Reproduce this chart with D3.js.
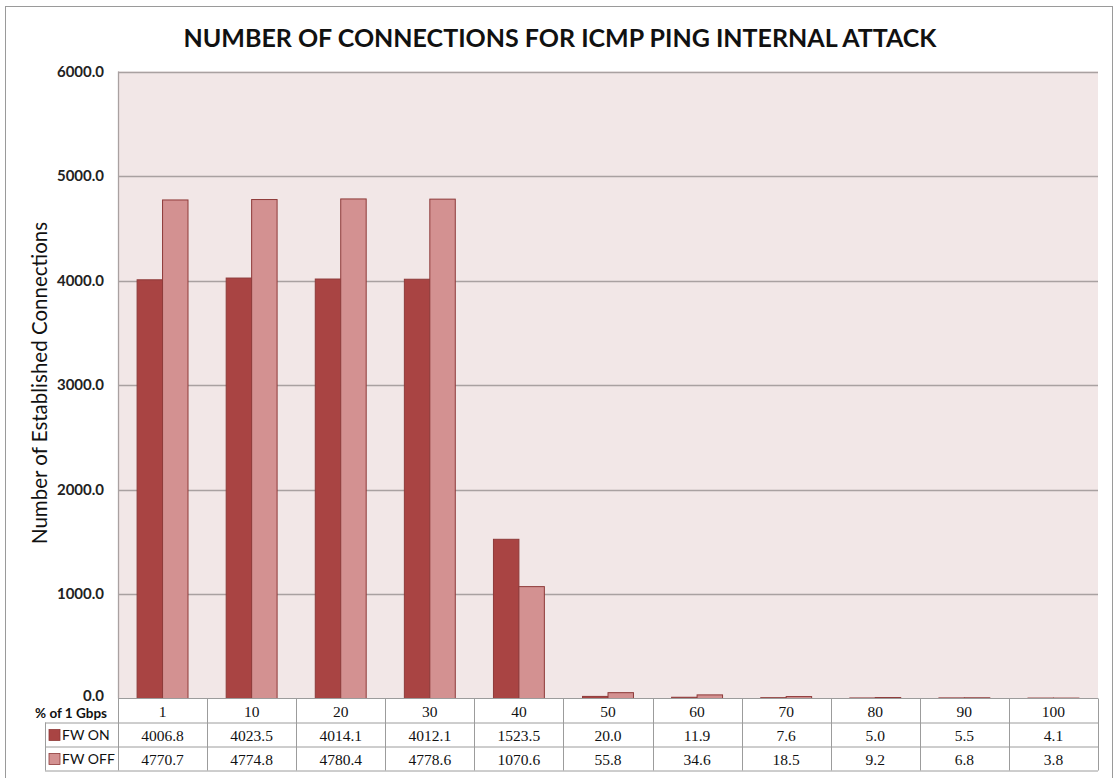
<!DOCTYPE html>
<html>
<head>
<meta charset="utf-8">
<script src="https://cdn.jsdelivr.net/npm/d3@7"></script>
<style>
  html, body { margin: 0; padding: 0; background: #ffffff; }
  svg { display: block; }
</style>
</head>
<body>
<svg id="chart" width="1114" height="778"></svg>
<script>
// Load levels (% of 1 Gbps) and connection counts per firewall state
const categories = ["1", "10", "20", "30", "40", "50", "60", "70", "80", "90", "100"];
const fwOn  = [4006.8, 4023.5, 4014.1, 4012.1, 1523.5, 20.0, 11.9, 7.6, 5.0, 5.5, 4.1];
const fwOff = [4770.7, 4774.8, 4780.4, 4778.6, 1070.6, 55.8, 34.6, 18.5, 9.2, 6.8, 3.8];
const seriesNames = ["FW ON", "FW OFF"];
const yTicks = [0, 1000, 2000, 3000, 4000, 5000, 6000];

const title = "NUMBER OF CONNECTIONS FOR ICMP PING INTERNAL ATTACK";
const yTitle = "Number of Established Connections";
const rowHeader = "% of 1 Gbps";

const colors = ["#A94443", "#D39191"];
const strokeCol = "#8E3A39";
const sansFont = "Lato, 'Open Sans', sans-serif";
const serifFont = "'Liberation Serif', 'DejaVu Serif', serif";

const svg = d3.select("#chart");
const plot = { left: 118, right: 1098, top: 71.5, bottom: 698.5 };

// outer frame
svg.append("rect")
  .attr("x", 5.5).attr("y", 6.5).attr("width", 1107).attr("height", 790)
  .attr("fill", "#fff").attr("stroke", "#9a9a9a").attr("stroke-width", 1);

// scales
const x = d3.scaleBand().domain(categories).range([plot.left, plot.right]).paddingInner(0).paddingOuter(0);
const y = d3.scaleLinear().domain([0, 6000]).range([plot.bottom, plot.top]);
// 150% gap between groups: band = 2 bars + 1.5 bar widths
const barW = x.bandwidth() / 3.5;
const sub = d3.scaleBand().domain([0, 1]).range([barW * 0.75, barW * 2.75]);

// plot background
svg.append("rect")
  .attr("x", plot.left).attr("y", plot.top)
  .attr("width", plot.right - plot.left).attr("height", plot.bottom - plot.top)
  .attr("fill", "#F2E7E7");

// tick labels from a left axis
const yAxis = d3.axisLeft(y).tickValues(yTicks).tickSize(0).tickPadding(14)
  .tickFormat(d => d3.format(".1f")(d));
const gy = svg.append("g").attr("transform", `translate(${plot.left},0)`).call(yAxis);
gy.select(".domain").remove();
gy.selectAll("text")
  .attr("font-family", sansFont).attr("font-weight", "bold")
  .attr("font-size", 15).attr("fill", "#222").attr("dy", "0.32em");
gy.selectAll(".tick").filter(d => d === 0).select("text").attr("dy", "0.1em");

// grid lines
svg.append("g").selectAll("line").data(yTicks.filter(d => d > 0)).join("line")
  .attr("x1", plot.left).attr("x2", plot.right)
  .attr("y1", d => Math.round(y(d)) + 0.5).attr("y2", d => Math.round(y(d)) + 0.5)
  .attr("stroke", "#A9A1A1").attr("stroke-width", 1.3);

// left axis line
svg.append("line")
  .attr("x1", plot.left + 0.5).attr("x2", plot.left + 0.5)
  .attr("y1", plot.top).attr("y2", plot.bottom)
  .attr("stroke", "#A9A1A1").attr("stroke-width", 1.3);

// bars
const series = [fwOn, fwOff];
const gBars = svg.append("g");
series.forEach((vals, si) => {
  gBars.append("g").selectAll("rect").data(vals).join("rect")
    .attr("x", (d, i) => x(categories[i]) + sub(si))
    .attr("y", d => y(d))
    .attr("width", sub.bandwidth())
    .attr("height", d => plot.bottom - y(d))
    .attr("fill", colors[si])
    .attr("stroke", strokeCol).attr("stroke-width", 1);
});

// data table under the plot
const rowH = 24;
const tableTop = plot.bottom;
const tableLeft = 45;
const gT = svg.append("g");
const tableStroke = "#9c9c9c";

// horizontal rules
gT.append("line").attr("x1", plot.left).attr("x2", plot.right)
  .attr("y1", tableTop).attr("y2", tableTop).attr("stroke", tableStroke);
[1, 2, 3].forEach(r => {
  gT.append("line")
    .attr("x1", tableLeft).attr("x2", plot.right)
    .attr("y1", tableTop + r * rowH + 0.5).attr("y2", tableTop + r * rowH + 0.5)
    .attr("stroke", tableStroke);
});
// vertical rules
const vx = categories.map(c => x(c)).concat([plot.right]);
gT.selectAll("line.v").data(vx).join("line").attr("class", "v")
  .attr("x1", d => Math.round(d) + 0.5).attr("x2", d => Math.round(d) + 0.5)
  .attr("y1", tableTop).attr("y2", tableTop + 3 * rowH)
  .attr("stroke", tableStroke);
gT.append("line")
  .attr("x1", tableLeft + 0.5).attr("x2", tableLeft + 0.5)
  .attr("y1", tableTop + rowH).attr("y2", tableTop + 3 * rowH)
  .attr("stroke", tableStroke);

// header row: category labels
gT.selectAll("text.cat").data(categories).join("text").attr("class", "cat")
  .attr("x", d => x(d) + x.bandwidth() / 2)
  .attr("y", tableTop + rowH / 2 + 1)
  .attr("dy", "0.35em").attr("text-anchor", "middle")
  .attr("font-family", serifFont).attr("font-size", 15.5).attr("fill", "#111")
  .text(d => d);

gT.append("text")
  .attr("x", 107).attr("y", tableTop + rowH / 2 + 3)
  .attr("dy", "0.35em").attr("text-anchor", "end")
  .attr("font-family", sansFont).attr("font-weight", "bold")
  .attr("font-size", 13.5).attr("fill", "#111")
  .text(rowHeader);

// data rows with legend keys
series.forEach((vals, si) => {
  const cy = tableTop + rowH * (si + 1) + rowH / 2 + 1;
  gT.append("rect")
    .attr("x", 49).attr("y", cy - 6).attr("width", 11).attr("height", 11)
    .attr("fill", colors[si]).attr("stroke", strokeCol).attr("stroke-width", 0.8);
  gT.append("text")
    .attr("x", 62).attr("y", cy).attr("dy", "0.35em")
    .attr("font-family", sansFont).attr("font-size", 14).attr("fill", "#111")
    .text(seriesNames[si]);
  gT.append("g").selectAll("text").data(vals).join("text")
    .attr("x", (d, i) => x(categories[i]) + x.bandwidth() / 2)
    .attr("y", cy).attr("dy", "0.35em").attr("text-anchor", "middle")
    .attr("font-family", serifFont).attr("font-size", 15.5).attr("fill", "#111")
    .text(d => d3.format(".1f")(d));
});

// chart title
svg.append("text")
  .attr("x", 560).attr("y", 47).attr("text-anchor", "middle")
  .attr("font-family", sansFont).attr("font-weight", "bold")
  .attr("font-size", 25).attr("fill", "#111")
  .text(title);

// y axis title
svg.append("text")
  .attr("transform", `translate(47, ${(plot.top + plot.bottom) / 2 - 2}) rotate(-90)`)
  .attr("text-anchor", "middle")
  .attr("font-family", sansFont).attr("font-size", 20.5).attr("fill", "#111")
  .text(yTitle);
</script>
</body>
</html>
